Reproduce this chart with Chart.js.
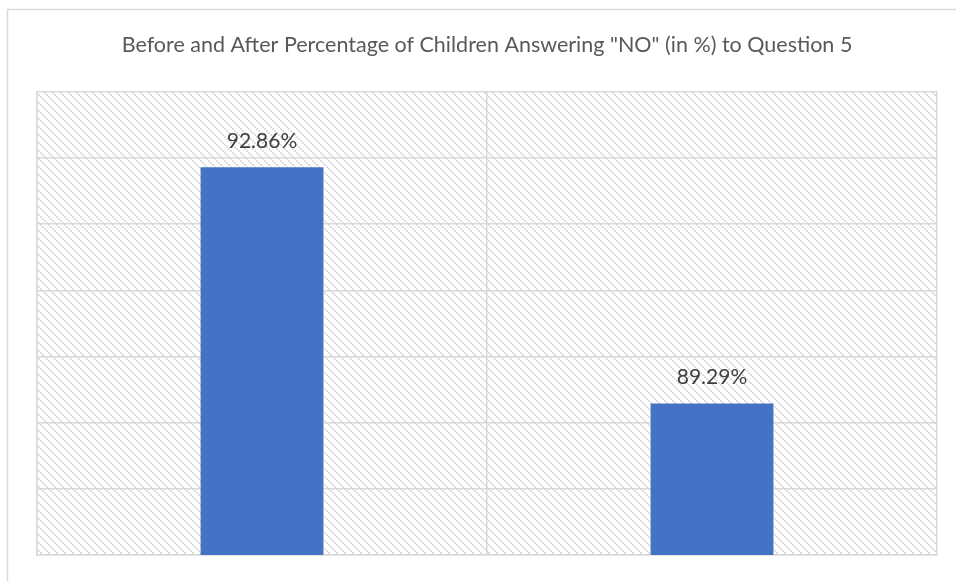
<!DOCTYPE html>
<html>
<head>
<meta charset="utf-8">
<script src="https://cdn.jsdelivr.net/npm/chart.js@4/dist/chart.umd.min.js"></script>
<style>
  html, body { margin: 0; padding: 0; background: #ffffff; }
  #wrap { position: relative; width: 956px; height: 581px; }
</style>
</head>
<body>
<div id="wrap"><canvas id="chart" width="956" height="581"></canvas></div>
<script>
// Chart data
const categories = ["Before", "After"];
const percentNo = [92.86, 89.29];
const axisMin = 87;
const axisMax = 94;
const axisStep = 1;
const titleText = 'Before and After Percentage of Children Answering "NO" (in %) to Question 5';

const FONT = "Lato, 'Open Sans', sans-serif";

// Diagonal dotted hatch used as the plot-area background
function makeHatch() {
  const c = document.createElement('canvas');
  c.width = 8; c.height = 8;
  const g = c.getContext('2d');
  g.fillStyle = '#ffffff';
  g.fillRect(0, 0, 8, 8);
  g.fillStyle = '#dedede';
  for (let i = 0; i < 8; i += 2) {
    g.fillRect(i, i, 2, 2);
  }
  return c;
}

const backgroundPlugin = {
  id: 'frameAndHatch',
  beforeDraw(chart) {
    const ctx = chart.ctx;
    const a = chart.chartArea;
    ctx.save();
    ctx.fillStyle = '#ffffff';
    ctx.fillRect(0, 0, chart.width, chart.height);
    ctx.strokeStyle = '#d9d9d9';
    ctx.lineWidth = 1.5;
    ctx.strokeRect(7.5, 9.5, chart.width + 20, chart.height + 20);
    ctx.fillStyle = ctx.createPattern(makeHatch(), 'repeat');
    ctx.fillRect(a.left, a.top, a.right - a.left, a.bottom - a.top);
    ctx.restore();
  }
};

const valueLabelPlugin = {
  id: 'valueLabels',
  afterDatasetsDraw(chart) {
    const ctx = chart.ctx;
    const meta = chart.getDatasetMeta(0);
    ctx.save();
    ctx.font = "21px " + FONT;
    ctx.fillStyle = '#404040';
    ctx.textAlign = 'center';
    ctx.textBaseline = 'middle';
    meta.data.forEach((bar, i) => {
      const v = chart.data.datasets[0].data[i];
      ctx.fillText(v.toFixed(2) + '%', bar.x, bar.y - 26);
    });
    ctx.restore();
  }
};

new Chart(document.getElementById('chart'), {
  type: 'bar',
  data: {
    labels: categories,
    datasets: [{
      data: percentNo,
      backgroundColor: '#4472C4',
      borderWidth: 0,
      categoryPercentage: 1,
      barPercentage: 0.273
    }]
  },
  options: {
    responsive: false,
    animation: false,
    layout: { padding: { left: 37, right: 19, top: 0, bottom: 26 } },
    plugins: {
      legend: { display: false },
      tooltip: { enabled: false },
      title: {
        display: true,
        text: titleText,
        color: '#595959',
        font: { family: FONT, size: 21.5, weight: 'normal', lineHeight: 1.2 },
        padding: { top: 32, bottom: 34 }
      }
    },
    scales: {
      x: {
        offset: true,
        grid: { display: true, offset: true, color: '#d9d9d9', lineWidth: 1.5, drawTicks: false },
        border: { display: true, color: '#d9d9d9', width: 1.5 },
        ticks: { display: false }
      },
      y: {
        min: axisMin,
        max: axisMax,
        grid: { color: '#d9d9d9', lineWidth: 1.5, drawTicks: false },
        border: { display: true, color: '#d9d9d9', width: 1.5 },
        ticks: { display: false, stepSize: axisStep }
      }
    }
  },
  plugins: [backgroundPlugin, valueLabelPlugin]
});
</script>
</body>
</html>
